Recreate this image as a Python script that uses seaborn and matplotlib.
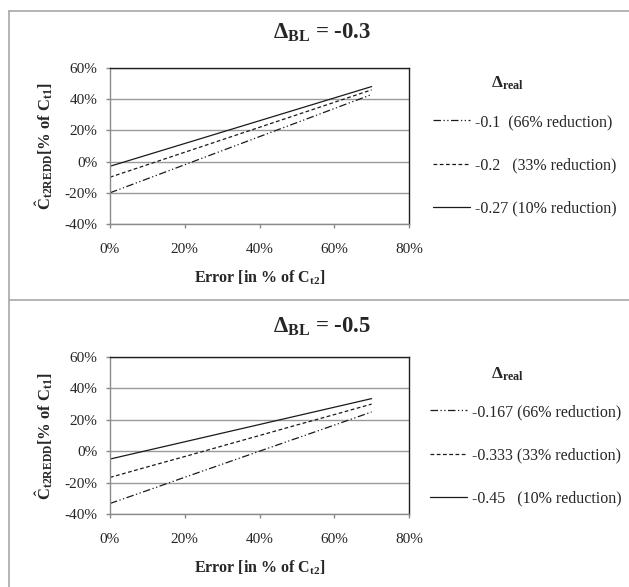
#!/usr/bin/env python3

import pandas as pd
import seaborn as sns
from matplotlib import pyplot as plt
from matplotlib.lines import Line2D
from matplotlib.ticker import FuncFormatter

# error in % of C_t2 (as fraction)
error = [0.0, 0.1, 0.2, 0.3, 0.4, 0.5, 0.6, 0.7]

# panel 1: delta_BL = -0.3
bl1_labels = ['-0.1  (66% reduction)', '-0.2   (33% reduction)', '-0.27 (10% reduction)']
bl1_a = [-0.20, -0.11, -0.02, 0.07, 0.16, 0.25, 0.34, 0.43]
bl1_b = [-0.10, -0.02, 0.06, 0.14, 0.22, 0.30, 0.38, 0.46]
bl1_c = [-0.03, 0.043, 0.116, 0.189, 0.262, 0.335, 0.408, 0.481]

# panel 2: delta_BL = -0.5
bl2_labels = ['-0.167 (66% reduction)', '-0.333 (33% reduction)', '-0.45   (10% reduction)']
bl2_a = [-0.333, -0.25, -0.166, -0.083, 0.0, 0.083, 0.166, 0.25]
bl2_b = [-0.167, -0.10, -0.034, 0.033, 0.10, 0.167, 0.233, 0.30]
bl2_c = [-0.05, 0.005, 0.06, 0.115, 0.17, 0.225, 0.28, 0.335]

titles = ['\u0394$_{BL}$ = -0.3', '\u0394$_{BL}$ = -0.5']

sns.set_theme(style='white')
plt.rcParams['font.family'] = ['Liberation Serif', 'DejaVu Serif']
plt.rcParams['mathtext.fontset'] = 'custom'
plt.rcParams['mathtext.rm'] = 'Liberation Serif'
plt.rcParams['mathtext.bf'] = 'Liberation Serif:bold'
plt.rcParams['mathtext.it'] = 'Liberation Serif:italic'
plt.rcParams['mathtext.default'] = 'bf'

W, H = 629, 587
fig = plt.figure(figsize=(W / 100, H / 100), dpi=100)


def fx(px):
    return px / W


def fy(py):
    return 1 - py / H


dash_specs = [(6, 2, 1, 2, 1, 2), (3, 2), '']


def panel(rect, series, labels, title, title_y, leg_x, leg_y, dtitle_y):
    ax = fig.add_axes(rect)
    df = pd.concat([pd.DataFrame({'error': error, 'value': vals, 'series': lab})
                    for vals, lab in zip(series, labels)])
    sns.lineplot(data=df, x='error', y='value', style='series',
                 dashes=dict(zip(labels, dash_specs)), color='k',
                 linewidth=0.9, legend=False, ax=ax)

    ax.set_xlim(0, 0.8)
    ax.set_ylim(-0.4, 0.6)
    ax.set_xticks([0, 0.2, 0.4, 0.6, 0.8])
    ax.set_yticks([-0.4, -0.2, 0, 0.2, 0.4, 0.6])
    fmt = FuncFormatter(lambda v, p: '%d%%' % round(v * 100))
    ax.xaxis.set_major_formatter(fmt)
    ax.yaxis.set_major_formatter(fmt)
    ax.grid(axis='y', color='#9a9a9a', linewidth=1.0)
    ax.grid(axis='x', visible=False)
    for s in ['left', 'bottom']:
        ax.spines[s].set_color('#8a8a8a')
        ax.spines[s].set_linewidth(1.0)
    for s in ['top', 'right']:
        ax.spines[s].set_color('#202020')
        ax.spines[s].set_linewidth(1.0)
    ax.tick_params(axis='both', direction='out', length=3, width=1,
                   color='#8a8a8a', labelsize=11, bottom=True, left=True)
    ax.tick_params(axis='x', pad=10.5)
    ax.tick_params(axis='y', pad=6)

    ax.set_xlabel('Error [in % of C$_{t2}$]', fontsize=11.5,
                  fontweight='bold', labelpad=9)
    ax.set_ylabel('\u0108$_{t2REDD}$[% of C$_{t1}$]', fontsize=12,
                  fontweight='bold', labelpad=7)

    fig.text(fx(322), fy(title_y), title, ha='center', va='center',
             fontsize=16.5, fontweight='bold')
    fig.text(fx(508), fy(dtitle_y), '\u0394$_{real}$', ha='center',
             va='center', fontsize=12.5, fontweight='bold')

    handles = [Line2D([], [], color='k', linewidth=0.9,
                      linestyle=((0, d) if d else '-')) for d in dash_specs]
    fig.legend(handles, labels, loc='upper left',
               bbox_to_anchor=(fx(leg_x), fy(leg_y)), frameon=False,
               fontsize=11.5, handlelength=2.3, handletextpad=0.3,
               labelspacing=1.7, borderpad=0, borderaxespad=0)
    return ax


panel([fx(110), fy(224), fx(409) - fx(110), fy(68) - fy(224)],
      [bl1_a, bl1_b, bl1_c], bl1_labels, titles[0], 33, 433, 114, 83)
panel([fx(110), fy(514), fx(409) - fx(110), fy(357) - fy(514)],
      [bl2_a, bl2_b, bl2_c], bl2_labels, titles[1], 327, 430, 404, 374)

# panel frames
frame = '#a8a8a8'
fig.add_artist(Line2D([fx(9), 1], [fy(11), fy(11)], color=frame, linewidth=1.2))
fig.add_artist(Line2D([fx(9), 1], [fy(300), fy(300)], color=frame, linewidth=1.2))
fig.add_artist(Line2D([fx(9), fx(9)], [fy(11), 0], color=frame, linewidth=1.2))

fig.savefig('out.png', dpi=100)
